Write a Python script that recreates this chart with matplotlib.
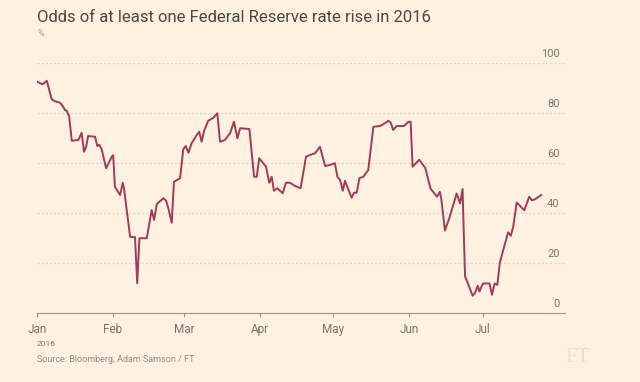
import matplotlib
matplotlib.use("Agg")
import matplotlib.pyplot as plt
import matplotlib.transforms as mtransforms

# days since 1 Jan 2016
days = [0, 2.3, 4.0, 6.0, 7.3, 9.4, 10.5, 11.4, 12.1, 13.1, 14.2, 16.9, 18.2, 19.2, 20.0,
        20.9, 23.7, 24.6, 25.4, 26.4, 28.2, 30.5, 31.1, 31.8, 33.9, 35.0, 35.5, 38.0, 40.0,
        40.9, 41.8, 44.8, 46.8, 47.8, 48.9, 51.6, 52.7, 53.6, 55.0, 55.9, 58.4, 59.7, 60.7,
        61.8, 63.1, 65.2, 66.2, 67.2, 68.2, 69.9, 72.0, 73.6, 74.7, 76.7, 78.8, 80.4, 81.8,
        82.9, 86.7, 88.6, 89.7, 90.7, 93.5, 94.8, 95.8, 96.7, 98.1, 100.3, 101.6, 103.3,
        105.3, 107.6, 109.8, 111.4, 113.5, 115.5, 117.6, 119.6, 121.6, 122.6, 123.7, 124.8,
        125.7, 128.4, 129.4, 130.5, 131.6, 133.2, 135.2, 137.3, 140.0, 142.0, 143.4, 144.4,
        145.4, 146.8, 149.8, 151.6, 152.5, 153.3, 156.0, 158.5, 160.6, 163.3, 164.4, 165.0,
        166.5, 168.2, 171.3, 172.7, 173.7, 174.7, 175.8, 177.8, 178.8, 179.9, 180.6, 182.0,
        184.7, 185.7, 186.8, 187.9, 188.9, 192.3, 193.4, 194.4, 195.8, 198.9, 200.9, 202.0,
        203.3, 205.8]
odds = [92.5, 91.5, 92.9, 85.5, 84.7, 84.1, 82.8, 81.2, 80.9, 78.8, 68.9, 69.2, 72.1, 64.5,
        66.3, 70.8, 70.5, 66.8, 67.3, 65.5, 57.9, 62.5, 63.1, 50.5, 47.2, 52.1, 49.9, 30.5,
        30.3, 11.9, 29.9, 29.9, 41.2, 37.2, 43.6, 45.9, 44.9, 41.9, 36.1, 52.5, 53.9, 65.5,
        66.8, 64.1, 67.9, 71.2, 72.5, 68.5, 72.9, 76.9, 78.1, 79.9, 68.5, 69.2, 71.9, 76.5,
        69.9, 73.9, 73.6, 54.5, 54.5, 61.9, 58.5, 52.1, 54.5, 48.9, 49.9, 47.9, 52.1, 52.1,
        50.8, 49.9, 62.5, 63.2, 63.9, 66.5, 58.8, 59.2, 59.9, 54.5, 53.2, 48.9, 52.9, 46.1,
        48.1, 48.1, 53.9, 54.5, 57.2, 74.5, 74.8, 75.9, 76.9, 76.1, 73.2, 74.8, 74.8, 76.5,
        76.5, 58.5, 61.3, 58.0, 49.8, 46.5, 48.5, 45.8, 33.0, 37.7, 47.8, 43.8, 49.6, 14.7,
        12.0, 6.9, 8.0, 10.9, 8.6, 11.8, 11.8, 7.3, 11.8, 11.3, 20.1, 32.3, 30.9, 34.7, 44.2,
        41.1, 46.5, 45.1, 45.5, 47.2]

month_days = [0, 31, 60, 91, 121, 152, 182]
month_labels = ['Jan', 'Feb', 'Mar', 'Apr', 'May', 'Jun', 'Jul']
y_ticks = [0, 20, 40, 60, 80, 100]

bg = '#fff1e0'
line_col = '#a03a5a'
text_col = '#7a746e'
grid_col = '#e3d5c9'

plt.rcParams['font.family'] = ['Roboto', 'DejaVu Sans']

fig = plt.figure(figsize=(6.4, 3.82), dpi=100, facecolor=bg)
ax = fig.add_axes([37 / 640, 1 - 313 / 382, 528 / 640, 250 / 382])
ax.set_facecolor(bg)

ax.set_xlim(0, 528 / 2.45)
ax.set_ylim(0, 100)

for v in y_ticks[1:]:
    ax.axhline(v, color=grid_col, lw=1, ls=(0, (1.5, 1.5)), zorder=1)

ax.plot(days, odds, color=line_col, lw=1.4, zorder=3, solid_joinstyle='round')

for s in ['top', 'right', 'left']:
    ax.spines[s].set_visible(False)
ax.spines['bottom'].set_color('#9a948e')
ax.spines['bottom'].set_linewidth(0.8)

ax.set_yticks([])
ax.set_xticks(month_days)
ax.set_xticklabels(month_labels)
ax.tick_params(axis='x', direction='out', length=3, width=0.8, color='#9a948e',
               labelcolor=text_col, labelsize=8.5, pad=4)

# y labels sit just above their gridlines, right-aligned
trans = mtransforms.offset_copy(ax.get_yaxis_transform(), fig=fig, y=3, units='points')
for v in y_ticks:
    ax.text(0.99, v, str(v), transform=trans, ha='right', va='bottom',
            color=text_col, fontsize=8)

ax.text(0, -0.11, '2016', transform=ax.transAxes, ha='left', va='top',
        color=text_col, fontsize=6)

fig.text(37 / 640, 1 - 18 / 382, 'Odds of at least one Federal Reserve rate rise in 2016',
         ha='left', va='center', color='#4a4744', fontsize=12)
fig.text(37 / 640, 1 - 33 / 382, '%', ha='left', va='center', color='#a09a94', fontsize=6.5)
fig.text(37 / 640, 1 - 360 / 382, 'Source: Bloomberg; Adam Samson / FT',
         ha='left', va='center', color='#938d87', fontsize=6.5)
fig.text(578 / 640, 1 - 358 / 382, 'FT', ha='center', va='center', color='#e8ddd2',
         fontsize=15, family=['Liberation Serif', 'DejaVu Serif'])

fig.savefig('out.png', dpi=100, facecolor=bg)
